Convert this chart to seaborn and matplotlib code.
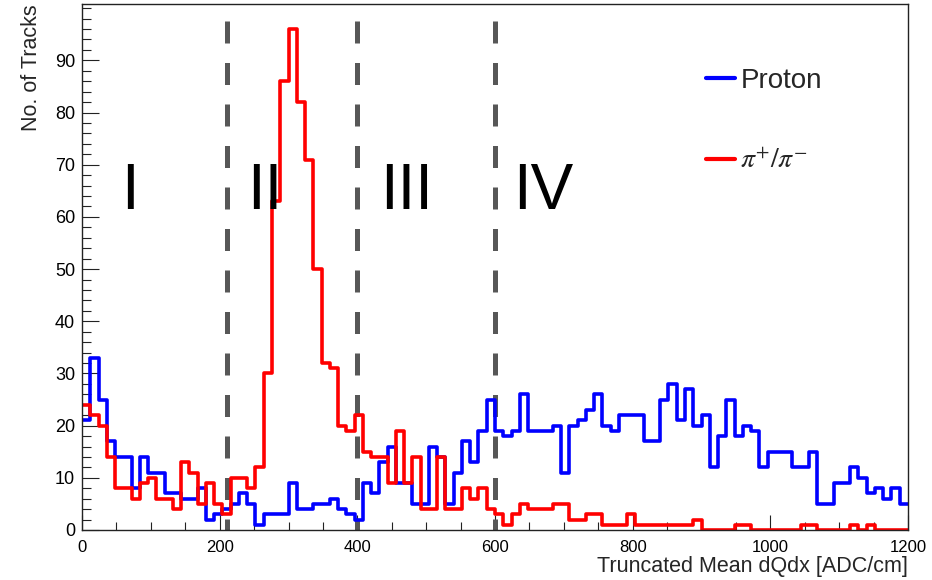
import numpy as np
import pandas as pd
import matplotlib
matplotlib.use("Agg")
import matplotlib.pyplot as plt
from matplotlib.lines import Line2D
from matplotlib.ticker import MultipleLocator, FixedLocator
import seaborn as sns

# ---- data ----
bin_edges = np.arange(0, 1201, 12)  # 100 bins, 12 ADC/cm wide
proton = [21, 33, 25, 17, 14, 14, 8, 14, 11, 11,
          7, 7, 6, 6, 8, 2, 3, 4, 5, 7,
          5, 1, 3, 3, 3, 9, 4, 4, 5, 5,
          6, 4, 3, 2, 9, 7, 13, 16, 9, 9,
          5, 5, 16, 14, 5, 11, 17, 13, 19, 25,
          19, 18, 19, 26, 19, 19, 19, 20, 11, 20,
          21, 23, 26, 20, 19, 22, 22, 22, 17, 17,
          25, 28, 21, 27, 20, 22, 12, 18, 25, 18,
          20, 19, 12, 15, 15, 15, 12, 12, 15, 5,
          5, 9, 9, 12, 10, 7, 8, 6, 8, 5]
pion = [24, 22, 20, 14, 8, 8, 6, 9, 10, 6,
        6, 4, 13, 11, 5, 9, 5, 3, 10, 10,
        8, 12, 30, 63, 86, 96, 82, 71, 50, 32,
        31, 20, 19, 22, 15, 14, 14, 9, 19, 9,
        14, 4, 4, 14, 4, 4, 8, 6, 8, 4,
        3, 1, 3, 5, 4, 4, 4, 5, 5, 2,
        2, 3, 3, 1, 1, 1, 3, 1, 1, 1,
        1, 1, 1, 1, 2, 0, 0, 0, 0, 1,
        1, 0, 0, 0, 0, 0, 0, 1, 1, 0,
        0, 0, 0, 1, 0, 1, 0, 0, 0, 0]
series_labels = ["Proton", r"$\pi^{+}/\pi^{-}$"]
region_labels = ["I", "II", "III", "IV"]
region_label_x = [70, 266, 472, 670]
cut_values = [210, 400, 600]
y_tick_values = [0, 10, 20, 30, 40, 50, 60, 70, 80, 90]
x_title = "Truncated Mean dQdx [ADC/cm]"
y_title = "No. of Tracks"

centers = (bin_edges[:-1] + bin_edges[1:]) / 2
df = pd.DataFrame({"center": centers, "proton": proton, "pion": pion})

# ---- style ----
sns.set_style("white")
plt.rcParams["font.family"] = ["Liberation Sans", "DejaVu Sans"]
plt.rcParams["mathtext.fontset"] = "stix"

W, H = 932, 580
fig = plt.figure(figsize=(W / 100, H / 100), dpi=100)
ax = fig.add_axes([82 / W, 50 / H, 826 / W, 526 / H])

sns.histplot(data=df, x="center", weights="proton", binwidth=12, binrange=(0, 1200),
             element="step", fill=False, color="#0000ff", linewidth=2.6, ax=ax)
sns.histplot(data=df, x="center", weights="pion", binwidth=12, binrange=(0, 1200),
             element="step", fill=False, color="#ff0000", linewidth=2.6, ax=ax)

ax.set_xlim(0, 1200)
ax.set_ylim(0, 100.8)

# cut lines
for c in cut_values:
    ax.plot([c, c], [97.5, 0], color="#575757", linewidth=3.6,
            linestyle=(0, (4.4, 3.9)), solid_capstyle="butt", zorder=1)

# region labels
for lab, xp in zip(region_labels, region_label_x):
    ax.text(xp, 61.5, lab, fontsize=46, ha="center", va="baseline", color="black")

# axes styling (ROOT-like)
for s in ax.spines.values():
    s.set_linewidth(1.0)
    s.set_color("#222222")
ax.xaxis.set_major_locator(MultipleLocator(200))
ax.xaxis.set_minor_locator(MultipleLocator(50))
ax.yaxis.set_major_locator(FixedLocator(y_tick_values))
ax.yaxis.set_minor_locator(MultipleLocator(2))
ax.tick_params(axis="x", which="major", direction="in", length=10.8, width=0.8,
               labelsize=12, pad=7, colors="#222222", labelcolor="black")
ax.tick_params(axis="x", which="minor", direction="in", length=5.8, width=0.8, colors="#222222")
ax.tick_params(axis="y", which="major", direction="in", length=12.2, width=0.8,
               labelsize=13, pad=5, colors="#222222", labelcolor="black")
ax.tick_params(axis="y", which="minor", direction="in", length=6.5, width=0.8, colors="#222222")
ax.tick_params(top=False, right=False, bottom=True, left=True, which="both")

ax.set_xlabel(x_title, fontsize=15.5, loc="right", labelpad=1)
ax.set_ylabel(y_title, fontsize=15.5, loc="top", labelpad=9)

handles = [Line2D([], [], color="#0000ff", linewidth=3),
           Line2D([], [], color="#ff0000", linewidth=3)]
ax.legend(handles, series_labels, loc="upper left", bbox_to_anchor=(0.755, 0.878),
          frameon=False, fontsize=20, handlelength=1.05, handletextpad=0.2,
          labelspacing=1.95, borderpad=0, borderaxespad=0)

fig.savefig("out.png", dpi=100)
